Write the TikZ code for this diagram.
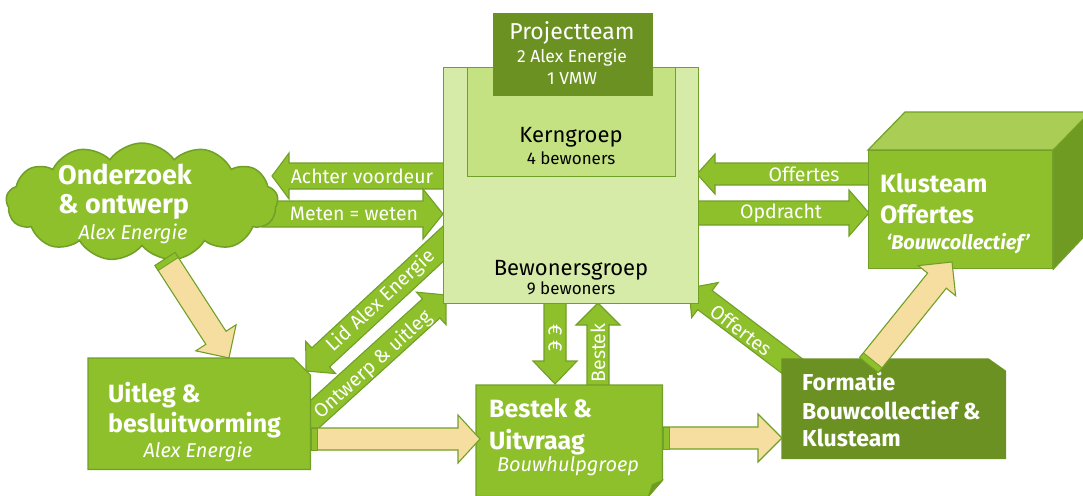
\documentclass[tikz,border=0pt]{standalone}
\usepackage{fontspec}
\setmainfont{Fira Sans}
\usetikzlibrary{shapes.symbols,calc}
\pgfdeclarelayer{bg}
\pgfsetlayers{bg,main}
\definecolor{gmain}{RGB}{141,192,42}
\definecolor{gdark}{RGB}{108,145,35}
\definecolor{gline}{RGB}{112,160,40}
\definecolor{glight}{RGB}{214,235,168}
\definecolor{gkern}{RGB}{196,226,130}
\definecolor{tanc}{RGB}{246,222,160}
\definecolor{gtop}{RGB}{170,205,85}
\definecolor{gside}{RGB}{112,155,35}
% #1 style, #2 from, #3 to, #4 shaft half width, #5 head half width, #6 head length, #7 tail band
\newcommand\blockarrow[7]{%
  \draw[#1] let \p1=(#2),\p2=(#3),\n1={atan2(\y2-\y1,\x2-\x1)},\n2={veclen(\x2-\x1,\y2-\y1)} in
    [shift={(\p1)},rotate=\n1] (0,-#4) -- ({\n2-#6},-#4) -- ({\n2-#6},-#5) -- (\n2,0)
    -- ({\n2-#6},#5) -- ({\n2-#6},#4) -- (0,#4) -- cycle;
  \ifdim#7pt>0pt
  \draw[bandst] let \p1=(#2),\p2=(#3),\n1={atan2(\y2-\y1,\x2-\x1)} in
    [shift={(\p1)},rotate=\n1] (0,-#4) rectangle (#7,#4);
  \fi}
\begin{document}
\begin{tikzpicture}[x=1pt,y=-1pt,
  box/.style={draw=gline, line width=1.2pt, inner sep=0pt},
  garrow/.style={fill=gmain, draw=gline, line width=1.1pt, line join=miter},
  tarrow/.style={fill=tanc, draw=gline, line width=1.1pt, line join=miter},
  bandst/.style={fill=gmain, draw=gline, line width=0.8pt},
  ttl/.style={text=white, font=\bfseries\fontsize{25}{30}\selectfont, anchor=base west, inner sep=0pt},
  sub/.style={text=white, font=\itshape\fontsize{20}{24}\selectfont, anchor=base, inner sep=0pt},
  albl/.style={text=white, font=\fontsize{19.5}{23}\selectfont, inner sep=0pt},
  dtxt/.style={text=black, anchor=base, inner sep=0pt},
  wtxt/.style={text=white, anchor=base, inner sep=0pt}]
\useasboundingbox (0,0) rectangle (1083,495);
\clip (0,0) rectangle (1083,495);

% ---------- central group ----------
\node[box, fill=glight, anchor=north west, minimum width=255, minimum height=236] (bew) at (443,67) {};
\node[box, fill=gkern, anchor=north west, minimum width=208, minimum height=109] (kern) at (467,67) {};
\node[box, fill=gdark, draw=gdark, anchor=north west, minimum width=159, minimum height=82] (proj) at (493,13) {};
\node[wtxt, font=\fontsize{23}{27}\selectfont] (projT) at (572,40) {Projectteam};
\node[wtxt, font=\fontsize{17.5}{21}\selectfont] (projA) at (572,63) {2 Alex Energie};
\node[wtxt, font=\fontsize{17.5}{21}\selectfont] (projV) at (572,84) {1 VMW};
\node[dtxt, font=\fontsize{22}{26}\selectfont] (kernT) at (571,142) {Kerngroep};
\node[dtxt, font=\fontsize{17}{20}\selectfont] (kernS) at (571,164) {4 bewoners};
\node[dtxt, font=\fontsize{22}{26}\selectfont] (bewT) at (571,275) {Bewonersgroep};
\node[dtxt, font=\fontsize{17}{20}\selectfont] (bewS) at (571,294) {9 bewoners};

% ---------- cloud ----------
\node[cloud, cloud puffs=13, cloud puff arc=110, aspect=2.3, minimum width=272, minimum height=118,
      fill=gmain, draw=gline, line width=1.5pt] (cloud) at (142,202) {};
\node[ttl, font=\bfseries\fontsize{27}{32}\selectfont] (cl1) at (58,184) {Onderzoek};
\node[ttl, font=\bfseries\fontsize{27}{32}\selectfont] (cl2) at (58,213) {\& ontwerp};
\node[sub] (cl3) at (133,239) {Alex Energie};

% ---------- Klusteam cube ----------
\node[box, fill=gmain, anchor=north west, minimum width=184, minimum height=118] (klus) at (868,150) {};
\draw[box, fill=gtop] (klus.north west) -- ++(37,-38) -- ++(190,0) -- (klus.north east) -- cycle;
\draw[box, fill=gside] (klus.north east) -- ++(37,-38) -- ++(0,118) -- (klus.south east) -- cycle;
\node[ttl] (kl1) at (880,192) {Klusteam};
\node[ttl] (kl2) at (880,223) {Offertes};
\node[sub, font=\bfseries\itshape\fontsize{20}{24}\selectfont] (kl3) at (958,249) {`Bouwcollectief'};

% ---------- Uitleg ----------
\node[inner sep=0pt, anchor=north west, minimum width=222, minimum height=111] (uit) at (88,358) {};
\draw[box, fill=gmain] (uit.north west) -- ([xshift=-17pt]uit.north east) -- ([yshift=-17pt]uit.north east)
   -- (uit.south east) -- (uit.south west) -- cycle;
\node[ttl] (u1) at (108,402) {Uitleg \&};
\node[ttl] (u2) at (108,432) {besluitvorming};
\node[sub] (u3) at (198,457) {Alex Energie};

% ---------- Bestek ----------
\node[inner sep=0pt, anchor=north west, minimum width=186, minimum height=111] (best) at (476,385) {};
\draw[box, fill=gmain] (best.north west) -- (best.north east) -- ([yshift=16pt]best.south east)
   -- ([xshift=-14pt]best.south east) -- (best.south west) -- cycle;
\draw[box, fill=gside, line width=0.8pt] ([yshift=16pt]best.south east) -- ([xshift=-14pt]best.south east)
   -- ([xshift=-10pt,yshift=12pt]best.south east) -- cycle;
\node[ttl] (b1) at (489,417) {Bestek \&};
\node[ttl] (b2) at (489,449) {Uitvraag};
\node[sub] (b3) at (568,471) {Bouwhulpgroep};

% ---------- Formatie ----------
\node[inner sep=0pt, anchor=north west, minimum width=223, minimum height=99] (form) at (782,359) {};
\draw[box, fill=gdark, draw=gdark] (form.north west) -- ([xshift=-17pt]form.north east) -- ([yshift=-12pt]form.north east)
   -- (form.south east) -- (form.south west) -- cycle;
\node[ttl, font=\bfseries\fontsize{23}{28}\selectfont] (f1) at (802,390) {Formatie};
\node[ttl, font=\bfseries\fontsize{23}{28}\selectfont] (f2) at (802,419) {Bouwcollectief \&};
\node[ttl, font=\bfseries\fontsize{23}{28}\selectfont] (f3) at (802,446) {Klusteam};

% ---------- connector end points ----------
\coordinate (a1s) at (450,176);  \coordinate (a1t) at (272,176);
\coordinate (a2s) at (262,214);  \coordinate (a2t) at (443,214);
\coordinate (a3s) at (875,174);  \coordinate (a3t) at (697,174);
\coordinate (a4s) at (690,213);  \coordinate (a4t) at (869,213);
\coordinate (a5s) at (458,230);  \coordinate (a5t) at (306,371);
\coordinate (a6s) at (305,423);  \coordinate (a6t) at (446,295);
\coordinate (a7s) at (555,300);  \coordinate (a7t) at (555,384);
\coordinate (a8s) at (598,392);  \coordinate (a8t) at (598,303);
\coordinate (a9s) at (800,372);  \coordinate (a9t) at (689,288);
\coordinate (t1s) at (165,259);  \coordinate (t1t) at (229,358);
\coordinate (t2s) at (311,439);  \coordinate (t2t) at (480,439);
\coordinate (t3s) at (663,438);  \coordinate (t3t) at (782,438);
\coordinate (t4s) at (869,365);  \coordinate (t4t) at (952,262);

\begin{pgfonlayer}{bg}
\blockarrow{garrow}{a1s}{a1t}{13}{23}{17}{0}
\blockarrow{garrow}{a2s}{a2t}{13}{25}{20}{0}
\blockarrow{garrow}{a3s}{a3t}{11}{20}{18}{0}
\blockarrow{garrow}{a4s}{a4t}{12}{23}{20}{0}
\blockarrow{garrow}{a5s}{a5t}{13}{22}{20}{0}
\blockarrow{garrow}{a6s}{a6t}{13}{22}{20}{0}
\blockarrow{garrow}{a7s}{a7t}{11}{22}{23}{0}
\blockarrow{garrow}{a8s}{a8t}{11}{22}{22}{0}
\blockarrow{garrow}{a9s}{a9t}{12}{22}{20}{0}
\end{pgfonlayer}
\blockarrow{tarrow}{t1s}{t1t}{12}{24}{24}{6}
\blockarrow{tarrow}{t2s}{t2t}{11}{24}{22}{6}
\blockarrow{tarrow}{t3s}{t3t}{11}{24}{24}{6}
\blockarrow{tarrow}{t4s}{t4t}{12}{24}{24}{6}

% ---------- connector labels ----------
\node[albl] (l1) at (362,176) {Achter voordeur};
\node[albl] (l2) at (354,214) {Meten = weten};
\node[albl] (l3) at (804,174) {Offertes};
\node[albl] (l4) at (781,213) {Opdracht};
\node[albl, rotate=43] (l5) at (381,301) {Lid Alex Energie};
\node[albl, rotate=42] (l6) at (373,365) {Ontwerp \& uitleg};
\node[albl, rotate=-90] (l7) at (555,338) {€ €};
\node[albl, rotate=90] (l8) at (598,353) {Bestek};
\node[albl, rotate=-37] (l9) at (741,330) {Offertes};
\end{tikzpicture}
\end{document}
